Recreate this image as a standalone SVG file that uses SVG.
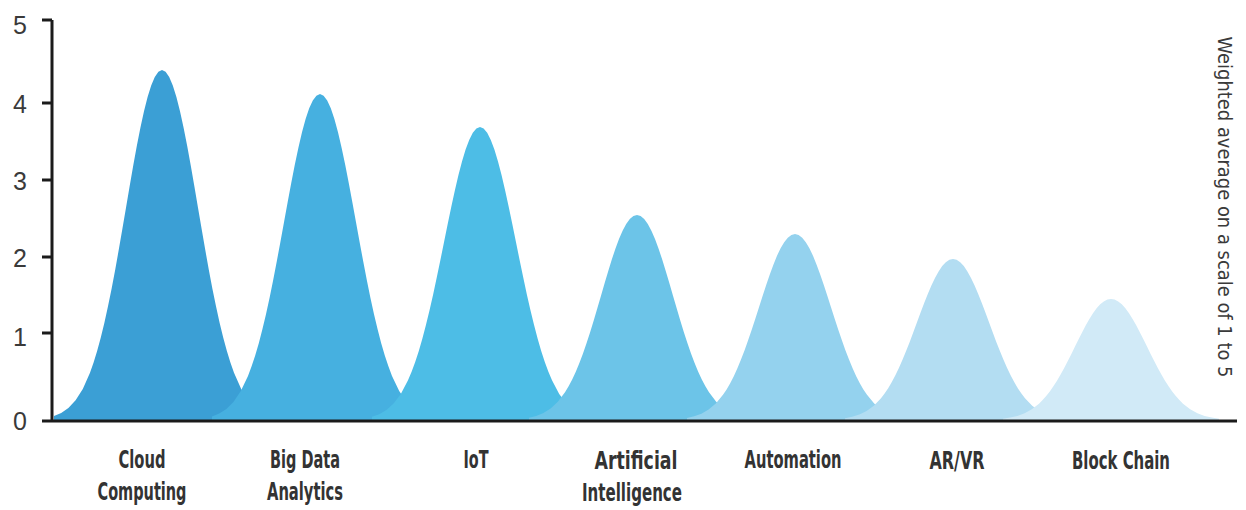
<svg xmlns="http://www.w3.org/2000/svg" width="1246" height="510" viewBox="0 0 1246 510">
<style>
.lbl{font-family:"Liberation Sans Narrow","DejaVu Sans Condensed","Liberation Sans",sans-serif;font-size:25px;fill:#333;text-anchor:middle;font-weight:bold}
.tick{font-family:"Liberation Sans","Open Sans",sans-serif;font-size:25px;fill:#3a3a3a;text-anchor:end;dominant-baseline:central}
.ax{stroke:#1b1b1b;stroke-width:3;fill:none}
.side{font-family:"Liberation Sans Narrow","DejaVu Sans Condensed","Liberation Sans",sans-serif;font-size:20px;fill:#3a3a3a;text-anchor:middle;dominant-baseline:central}
</style>
<defs>
<path id="bell" d="M-3,0 L-3,-0.0111 L-2.8,-0.0198 L-2.6,-0.034 L-2.4,-0.0561 L-2.2,-0.0889 L-2,-0.1353 L-1.9,-0.1645 L-1.8,-0.1979 L-1.7,-0.2357 L-1.6,-0.278 L-1.5,-0.3247 L-1.4,-0.3753 L-1.3,-0.4296 L-1.2,-0.4868 L-1.1,-0.5461 L-1,-0.6065 L-0.9,-0.667 L-0.8,-0.7261 L-0.7,-0.7827 L-0.6,-0.8353 L-0.5,-0.8825 L-0.4,-0.9231 L-0.3,-0.956 L-0.2,-0.9802 L-0.1,-0.995 L0,-1 L0.1,-0.995 L0.2,-0.9802 L0.3,-0.956 L0.4,-0.9231 L0.5,-0.8825 L0.6,-0.8353 L0.7,-0.7827 L0.8,-0.7261 L0.9,-0.667 L1,-0.6065 L1.1,-0.5461 L1.2,-0.4868 L1.3,-0.4296 L1.4,-0.3753 L1.5,-0.3247 L1.6,-0.278 L1.7,-0.2357 L1.8,-0.1979 L1.9,-0.1645 L2,-0.1353 L2.2,-0.0889 L2.4,-0.0561 L2.6,-0.034 L2.8,-0.0198 L3,-0.0111 L3,0 Z"/>
</defs>
<rect width="1246" height="510" fill="#fff"/>
<g id="cloud">
<use href="#bell" transform="translate(162,420) scale(36,350)" fill="#3b9fd5"/>
<text class="lbl" x="142" y="468" textLength="47" lengthAdjust="spacingAndGlyphs">Cloud</text>
<text class="lbl" x="142" y="500" textLength="89" lengthAdjust="spacingAndGlyphs">Computing</text>
</g>
<g id="bigdata">
<use href="#bell" transform="translate(320,420) scale(36,326)" fill="#46b0e0"/>
<text class="lbl" x="305" y="468" textLength="70" lengthAdjust="spacingAndGlyphs">Big Data</text>
<text class="lbl" x="305" y="500" textLength="76" lengthAdjust="spacingAndGlyphs">Analytics</text>
</g>
<g id="iot">
<use href="#bell" transform="translate(480,420) scale(36,293)" fill="#4dbde6"/>
<text class="lbl" x="476" y="468" textLength="25" lengthAdjust="spacingAndGlyphs">IoT</text>
</g>
<g id="ai">
<use href="#bell" transform="translate(637,420) scale(36,205)" fill="#6cc4e8"/>
<text class="lbl" x="636" y="469" textLength="83" lengthAdjust="spacingAndGlyphs">Artificial</text>
<text class="lbl" x="632" y="501" textLength="100" lengthAdjust="spacingAndGlyphs">Intelligence</text>
</g>
<g id="automation">
<use href="#bell" transform="translate(795,420) scale(36,186)" fill="#94d2ee"/>
<text class="lbl" x="793" y="468" textLength="97" lengthAdjust="spacingAndGlyphs">Automation</text>
</g>
<g id="arvr">
<use href="#bell" transform="translate(953,420) scale(36,161)" fill="#b3ddf2"/>
<text class="lbl" x="957" y="469" textLength="55" lengthAdjust="spacingAndGlyphs">AR/VR</text>
</g>
<g id="blockchain">
<use href="#bell" transform="translate(1111,420) scale(36,121)" fill="#d1eaf7"/>
<text class="lbl" x="1121" y="469" textLength="98" lengthAdjust="spacingAndGlyphs">Block Chain</text>
</g>
<g id="axes">
<path class="ax" d="M52,20 V421 M42,421 H1237 M42,20 H52 M42,103 H52 M42,180 H52 M42,257 H52 M42,333 H52"/>
<text class="tick" x="27" y="25">5</text>
<text class="tick" x="27" y="104">4</text>
<text class="tick" x="27" y="181">3</text>
<text class="tick" x="27" y="258">2</text>
<text class="tick" x="27" y="337">1</text>
<text class="tick" x="27" y="421">0</text>
<text class="side" transform="translate(1225,207) rotate(90)" textLength="341" lengthAdjust="spacingAndGlyphs">Weighted average on a scale of 1 to 5</text>
</g>
</svg>
